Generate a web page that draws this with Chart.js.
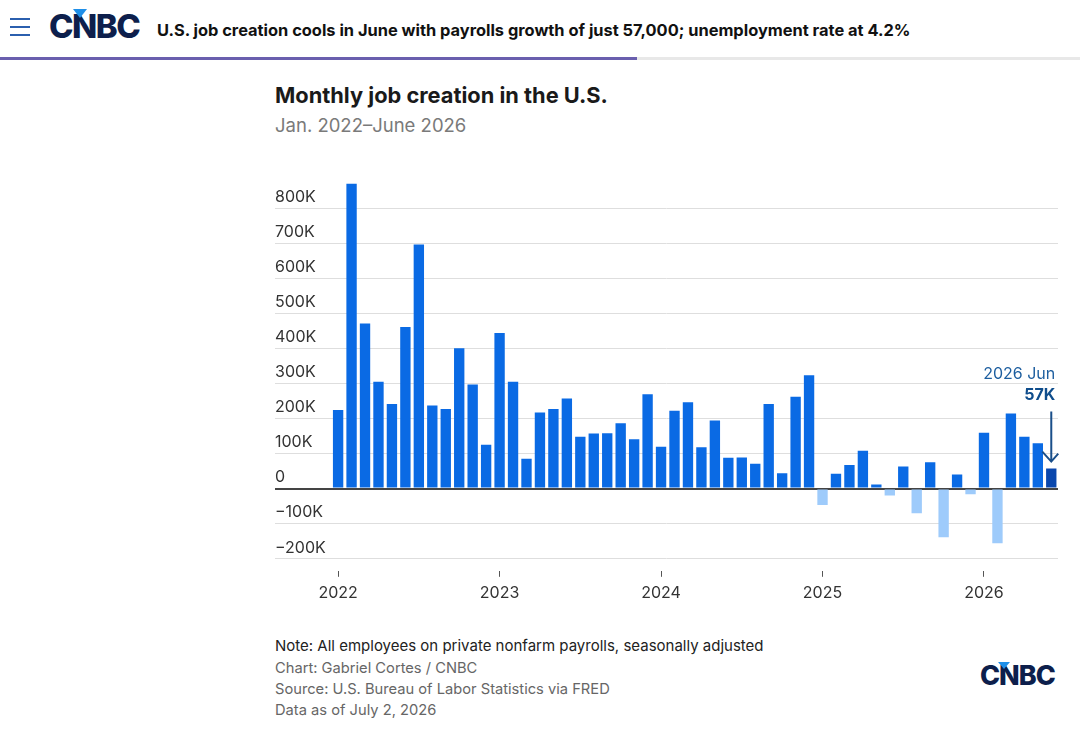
<!DOCTYPE html>
<html>
<head>
<meta charset="utf-8">
<script src="https://cdn.jsdelivr.net/npm/chart.js@4/dist/chart.umd.min.js"></script>
<style>
  body { margin: 0; width: 1080px; height: 737px; background: #fff; font-family: Inter, "Open Sans", sans-serif; position: relative; overflow: hidden; }
  .abs { position: absolute; white-space: nowrap; }
  .burger span { display: block; width: 20px; height: 2px; background: #2b5fae; margin-bottom: 6px; }
  .logo { font-family: Inter, sans-serif; font-weight: 800; color: #0d1f4c; letter-spacing: -1.5px; }
  .tri { position: absolute; width: 0; height: 0; border-left: 7px solid transparent; border-right: 7px solid transparent; border-top: 9px solid #1f8fe8; }
  #wrap { position: absolute; left: 0; top: 0; width: 1080px; height: 610px; }
</style>
</head>
<body>
<div class="abs burger" style="left:10px; top:18px;"><span></span><span></span><span></span></div>
<div class="abs logo" style="left:49px; top:6px; font-size:33px;">CNBC</div>
<div class="tri" style="left:73px; top:9px;"></div>
<div class="abs" style="left:157px; top:20px; font-size:16.4px; font-weight:700; color:#111;">U.S. job creation cools in June with payrolls growth of just 57,000; unemployment rate at 4.2%</div>
<div class="abs" style="left:0; top:57px; width:1080px; height:3px; background:#e8e8e8;"></div>
<div class="abs" style="left:0; top:57px; width:637px; height:3px; background:#6a5fae;"></div>

<div class="abs" style="left:275px; top:82px; font-size:21.8px; font-weight:700; color:#1a1a1a;">Monthly job creation in the U.S.</div>
<div class="abs" style="left:275px; top:114px; font-size:18.5px; color:#7a7a7a;">Jan. 2022–June 2026</div>

<div id="wrap"><canvas id="myChart"></canvas></div>

<div class="abs" style="left:275px; top:636px; font-size:15px; color:#222;">Note: All employees on private nonfarm payrolls, seasonally adjusted</div>
<div class="abs" style="left:275px; top:658px; font-size:14.7px; color:#666; line-height:21px;">Chart: Gabriel Cortes / CNBC<br>Source: U.S. Bureau of Labor Statistics via FRED<br>Data as of July 2, 2026</div>
<div class="abs logo" style="left:980px; top:659px; font-size:27px; letter-spacing:-1px;">CNBC</div>
<div class="tri" style="left:998px; top:662px; border-left-width:6px; border-right-width:6px; border-top-width:7px;"></div>

<script>
const months = [
  '2022-01','2022-02','2022-03','2022-04','2022-05','2022-06','2022-07','2022-08','2022-09','2022-10','2022-11','2022-12',
  '2023-01','2023-02','2023-03','2023-04','2023-05','2023-06','2023-07','2023-08','2023-09','2023-10','2023-11','2023-12',
  '2024-01','2024-02','2024-03','2024-04','2024-05','2024-06','2024-07','2024-08','2024-09','2024-10','2024-11','2024-12',
  '2025-01','2025-02','2025-03','2025-04','2025-05','2025-06','2025-07','2025-08','2025-09','2025-10','2025-11','2025-12',
  '2026-01','2026-02','2026-03','2026-04','2026-05','2026-06'
];
// thousands of jobs
const jobs = [
  224, 869, 471, 305, 241, 461, 696, 237, 227, 400, 297, 125,
  444, 305, 85, 217, 227, 257, 148, 157, 158, 186, 141, 269,
  119, 222, 246, 118, 194, 88, 89, 71, 241, 44, 262, 323,
  -47, 42, 67, 108, 12, -20, 63, -70, 75, -139, 40, -16,
  159, -156, 214, 148, 129, 57
];
const yearTicks = [0, 12, 24, 36, 48];
const yearLabels = ['2022', '2023', '2024', '2025', '2026'];
const yTicks = [-200, -100, 0, 100, 200, 300, 400, 500, 600, 700, 800];

const lastIdx = jobs.length - 1;
const barColors = jobs.map((v, i) => i === lastIdx ? '#0a47ad' : (v < 0 ? '#9ecbfb' : '#0a6ae4'));

const fmtK = v => v === 0 ? '0' : (v < 0 ? '\u2212' + Math.abs(v) + 'K' : v + 'K');

const annotate = {
  id: 'annotate',
  afterDatasetsDraw(chart) {
    const ctx = chart.ctx;
    const x = chart.scales.x.getPixelForValue(lastIdx);
    const yTop = chart.scales.y.getPixelForValue(jobs[lastIdx]);
    const right = x + 4;
    ctx.save();
    ctx.textAlign = 'right';
    ctx.textBaseline = 'middle';
    ctx.fillStyle = '#1d5e9f';
    ctx.font = '16px Inter, sans-serif';
    ctx.fillText('2026 Jun', right, yTop - 94);
    ctx.fillStyle = '#0f4d8c';
    ctx.font = 'bold 16px Inter, sans-serif';
    ctx.fillText(fmtK(jobs[lastIdx]), right, yTop - 73);
    // arrow
    ctx.strokeStyle = '#1a4f8a';
    ctx.lineWidth = 2;
    ctx.beginPath();
    ctx.moveTo(x, yTop - 57);
    ctx.lineTo(x, yTop - 7);
    ctx.moveTo(x - 9, yTop - 17);
    ctx.lineTo(x, yTop - 7);
    ctx.lineTo(x + 7, yTop - 15);
    ctx.stroke();
    ctx.restore();
  }
};

const ctx = document.getElementById('myChart').getContext('2d');
window.myChart = new Chart(ctx, {
  type: 'bar',
  data: {
    datasets: [{
      data: jobs.map((v, i) => ({ x: i, y: v })),
      backgroundColor: barColors,
      categoryPercentage: 1,
      barPercentage: 0.77,
      borderWidth: 0
    }]
  },
  options: {
    responsive: true,
    maintainAspectRatio: false,
    animation: false,
    layout: { padding: { left: 275, right: 22, top: 180, bottom: 0 } },
    scales: {
      x: {
        type: 'linear',
        offset: false,
        min: -4.69,
        max: 53.5,
        afterBuildTicks: scale => { scale.ticks = yearTicks.map(v => ({ value: v })); },
        grid: { offset: false, drawOnChartArea: false, drawTicks: true, tickLength: 6, color: '#555', lineWidth: 1 },
        border: { display: false },
        ticks: {
          color: '#333',
          font: { size: 16, family: 'Inter, sans-serif' },
          padding: 7,
          maxRotation: 0,
          callback: v => yearLabels[yearTicks.indexOf(v)]
        }
      },
      y: {
        min: -234.4,
        max: 880,
        afterBuildTicks: scale => { scale.ticks = yTicks.map(v => ({ value: v })); },
        grid: {
          drawTicks: false,
          color: ctx => ctx.tick && ctx.tick.value === 0 ? '#444' : '#dedede',
          lineWidth: ctx => ctx.tick && ctx.tick.value === 0 ? 2 : 1
        },
        border: { display: false },
        ticks: {
          mirror: true,
          padding: 0,
          labelOffset: -11,
          color: '#333',
          font: { size: 16, family: 'Inter, sans-serif' },
          callback: v => fmtK(v)
        }
      }
    },
    plugins: {
      legend: { display: false },
      tooltip: { enabled: false }
    }
  },
  plugins: [annotate]
});
</script>
</body>
</html>
